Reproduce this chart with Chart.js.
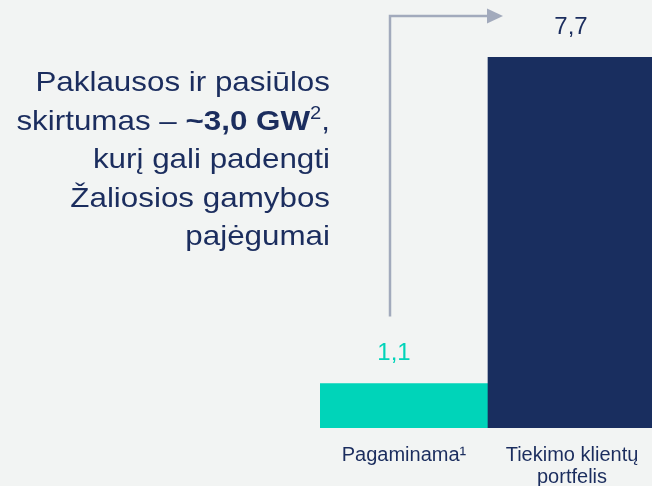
<!DOCTYPE html>
<html>
<head>
<meta charset="utf-8">
<script src="https://cdn.jsdelivr.net/npm/chart.js@4/dist/chart.umd.min.js"></script>
<style>
  html, body { margin: 0; padding: 0; background: #f2f4f3; overflow: hidden; }
  body { width: 652px; height: 486px; position: relative; }
  #wrap { position: absolute; left: 0; top: 0; width: 656px; height: 486px; }
  #note {
    position: absolute; right: 322px; top: 63px; width: 340px;
    font-family: "Liberation Sans", Arial, sans-serif; font-size: 28px;
    line-height: 38.5px; color: #1b2d5e; text-align: right;
    transform: scaleX(1.12); transform-origin: right top; white-space: nowrap;
  }
  #note b { font-weight: bold; }
  #note sup { font-size: 18px; line-height: 0; vertical-align: 11px; }
</style>
</head>
<body>
<div id="wrap"><canvas id="chart" width="656" height="486"></canvas></div>
<div id="note">Paklausos ir pasiūlos<br>skirtumas – <b>~3,0 GW</b><sup>2</sup>,<br>kurį gali padengti<br>Žaliosios gamybos<br>pajėgumai</div>
<script>
/* Generation vs supply portfolio, GW */
const categories = [["Pagaminama¹"], ["Tiekimo klientų", "portfelis"]];
const values = [1.1, 7.7];
const barColors = ["#00d4b9", "#192e5f"];
const labelColors = ["#00d4b9", "#1b2d5e"];

const fmt = v => v.toFixed(1).replace(".", ",");

// value labels above bars + the gap arrow from bar 1 to bar 2
const overlay = {
  id: "overlay",
  afterDatasetsDraw(chart) {
    const ctx = chart.ctx;
    const bars = chart.getDatasetMeta(0).data;
    ctx.save();
    ctx.font = "24px 'Liberation Sans', Arial, sans-serif";
    ctx.textAlign = "center";
    ctx.textBaseline = "middle";
    bars.forEach((b, i) => {
      ctx.fillStyle = labelColors[i];
      const dx = i === 0 ? -10 : -1;
      ctx.fillText(fmt(values[i]), b.x + dx, b.y - 30);
    });

    const a = bars[0], c = bars[1];
    const x0 = a.x - 14, yBottom = a.y - 67, yTop = 16;
    const tip = c.x - c.width / 2 + 15;
    ctx.strokeStyle = "#a2aabc";
    ctx.fillStyle = "#a2aabc";
    ctx.lineWidth = 2.5;
    ctx.beginPath();
    ctx.moveTo(x0, yBottom);
    ctx.lineTo(x0, yTop);
    ctx.lineTo(tip - 15, yTop);
    ctx.stroke();
    ctx.beginPath();
    ctx.moveTo(tip - 16, yTop - 7.5);
    ctx.lineTo(tip, yTop);
    ctx.lineTo(tip - 16, yTop + 7.5);
    ctx.closePath();
    ctx.fill();
    ctx.restore();
  }
};

new Chart(document.getElementById("chart"), {
  type: "bar",
  data: {
    labels: categories,
    datasets: [{
      data: values,
      backgroundColor: barColors,
      borderWidth: 0,
      barPercentage: 1,
      categoryPercentage: 1,
    }],
  },
  options: {
    responsive: false,
    animation: false,
    events: [],
    layout: { padding: { left: 320, top: 57, right: 0, bottom: -10 } },
    plugins: { legend: { display: false }, tooltip: { enabled: false } },
    scales: {
      x: {
        grid: { display: false },
        border: { display: false },
        ticks: {
          color: "#1b2d5e",
          font: { family: "'Liberation Sans', Arial, sans-serif", size: 20, lineHeight: 1.1 },
          padding: 8,
          maxRotation: 0,
          autoSkip: false,
        },
      },
      y: { display: false, min: 0.2, max: 7.7 },
    },
  },
  plugins: [overlay],
});
</script>
</body>
</html>
